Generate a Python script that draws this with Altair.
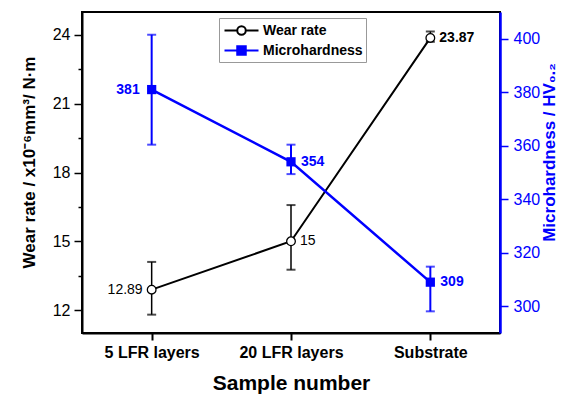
import altair as alt
import pandas as pd

categories = ["5 LFR layers", "20 LFR layers", "Substrate"]
wear_rate = [12.89, 15.0, 23.87]
wear_low = [11.80, 13.76, 23.70]
wear_high = [14.10, 16.58, 24.15]
wear_labels = ["12.89", "15", "23.87"]
wear_label_side = ["left", "right", "right"]
wear_label_weight = ["normal", "normal", "bold"]

hardness = [381, 354, 309]
hard_low = [360.4, 349.4, 298.1]
hard_high = [401.5, 360.4, 314.8]
hard_labels = ["381", "354", "309"]
hard_label_side = ["left", "right", "right"]

series_names = ["Wear rate", "Microhardness"]
wear_ticks = [12, 13.5, 15, 16.5, 18, 19.5, 21, 22.5, 24]
hard_ticks = [300, 310, 320, 330, 340, 350, 360, 370, 380, 390, 400]

BLUE = "#0000FF"
FONT = "Liberation Sans"

wear_df = pd.DataFrame({
    "cat": categories, "val": wear_rate, "lo": wear_low, "hi": wear_high,
    "label": wear_labels, "side": wear_label_side, "weight": wear_label_weight,
    "series": [series_names[0]] * 3,
})
hard_df = pd.DataFrame({
    "cat": categories, "val": hardness, "lo": hard_low, "hi": hard_high,
    "label": hard_labels, "side": hard_label_side,
})

x_enc = alt.X(
    "cat:N", sort=categories,
    scale=alt.Scale(type="point", domain=categories, padding=0.5),
    axis=alt.Axis(
        title="Sample number", labelAngle=0, labelFont=FONT, labelFontSize=16,
        labelFontWeight="bold", labelColor="black", labelPadding=4,
        titleFont=FONT, titleFontSize=21, titleFontWeight="bold", titleColor="black",
        titlePadding=12, domainColor="black", domainWidth=2, tickColor="black",
        tickWidth=2, tickSize=7,
    ),
)

wear_y = alt.Y(
    "val:Q",
    scale=alt.Scale(domain=[11, 25], nice=False, zero=False),
    axis=alt.Axis(
        orient="left", values=wear_ticks,
        labelExpr="datum.value % 3 == 0 ? datum.label : ''",
        tickSize={"condition": {"test": "datum.value % 3 == 0", "value": 8}, "value": 4},
        tickColor="black", tickWidth=1.5, domainColor="black", domainWidth=2,
        labelFont=FONT, labelFontSize=16, labelColor="black", labelPadding=4,
        title="Wear rate / x10⁻⁶mm³/ N·m", titleFont=FONT, titleFontSize=17,
        titleFontWeight="bold", titleColor="black", titlePadding=14, titleY=150,
    ),
)

hard_y = alt.Y(
    "val:Q",
    scale=alt.Scale(domain=[290, 410], nice=False, zero=False),
    axis=alt.Axis(
        orient="right", values=hard_ticks,
        labelExpr="datum.value % 20 == 0 ? datum.label : ''",
        tickSize={"condition": {"test": "datum.value % 20 == 0", "value": 8}, "value": 4},
        tickColor=BLUE, tickWidth=1.5, domainColor=BLUE, domainWidth=2.5,
        labelFont=FONT, labelFontSize=16, labelColor=BLUE, labelPadding=5,
        title="Microhardness / HV₀.₂", titleFont=FONT, titleFontSize=17,
        titleFontWeight="bold", titleColor=BLUE, titleAngle=270, titleX=58,
        titleY=140, titleBaseline="bottom",
    ),
)

circle_path = ("M-2,0H-0.5M0.5,0H2M-0.5,0A0.5,0.5 0 1 1 0.5,0"
               "A0.5,0.5 0 1 1 -0.5,0Z")
square_path = "M-2,0H2M-0.5,-0.5H0.5V0.5H-0.5Z"
leg = alt.Legend(
    title=None, orient="none", legendX=137, legendY=6, symbolOpacity=1,
    symbolSize=289, symbolStrokeWidth=2, labelFont=FONT, labelFontSize=14,
    labelFontWeight="bold", labelColor="black", labelOffset=12, symbolOffset=10,
    strokeColor="#999999", fillColor="white", padding=3, rowPadding=2,
)

wb = alt.Chart(wear_df).encode(x=x_enc, y=wear_y)
wear_rule = wb.mark_rule(color="black", strokeWidth=1.5).encode(y="lo:Q", y2="hi:Q")
wear_cap_hi = wb.mark_tick(color="black", size=9, thickness=2).encode(y="hi:Q")
wear_cap_lo = wb.mark_tick(color="black", size=9, thickness=2).encode(y="lo:Q")
wear_line = wb.mark_line(color="black", strokeWidth=2)
wear_pts = wb.mark_point(shape="circle", filled=True, fill="white", stroke="black",
                         strokeWidth=1.3, size=75, opacity=1)
wear_legend = wb.mark_point(opacity=0).encode(
    shape=alt.Shape("series:N", scale=alt.Scale(domain=series_names, range=[circle_path, square_path]), legend=leg),
    fill=alt.Fill("series:N", scale=alt.Scale(domain=series_names, range=["white", BLUE]), legend=leg),
    stroke=alt.Stroke("series:N", scale=alt.Scale(domain=series_names, range=["black", BLUE]), legend=leg),
)


def wear_text(side, weight):
    return wb.transform_filter(
        f"datum.side == '{side}' && datum.weight == '{weight}'"
    ).mark_text(
        align="right" if side == "left" else "left", baseline="middle",
        dx=-9 if side == "left" else 9, font=FONT, fontSize=14,
        fontWeight=weight, color="black",
    ).encode(text="label:N")


wear_group = alt.layer(
    wear_rule, wear_cap_hi, wear_cap_lo, wear_line, wear_pts, wear_legend,
    wear_text("left", "normal"), wear_text("right", "normal"), wear_text("right", "bold"),
)

hb = alt.Chart(hard_df).encode(x=x_enc, y=hard_y)
hard_rule = hb.mark_rule(color=BLUE, strokeWidth=2).encode(y="lo:Q", y2="hi:Q")
hard_cap_hi = hb.mark_tick(color=BLUE, size=9, thickness=2).encode(y="hi:Q")
hard_cap_lo = hb.mark_tick(color=BLUE, size=9, thickness=2).encode(y="lo:Q")
hard_line = hb.mark_line(color=BLUE, strokeWidth=2.5)
hard_pts = hb.mark_point(shape="square", filled=True, color=BLUE, size=85, opacity=1)


def hard_text(side):
    return hb.transform_filter(f"datum.side == '{side}'").mark_text(
        align="right" if side == "left" else "left", baseline="middle",
        dx=-12 if side == "left" else 10, font=FONT, fontSize=14,
        fontWeight="bold", color=BLUE,
    ).encode(text="label:N")


hard_group = alt.layer(
    hard_rule, hard_cap_hi, hard_cap_lo, hard_line, hard_pts,
    hard_text("left"), hard_text("right"),
)

chart = alt.layer(wear_group, hard_group).resolve_scale(y="independent").properties(
    width=418, height=321, autosize=alt.AutoSizeParams(type="none"),
    padding={"left": 82, "top": 12, "right": 74, "bottom": 63},
    background="white",
).configure_view(stroke="black", strokeWidth=2).configure_axis(grid=False)

chart.save("out.html", embed_options={"renderer": "svg", "actions": False})
